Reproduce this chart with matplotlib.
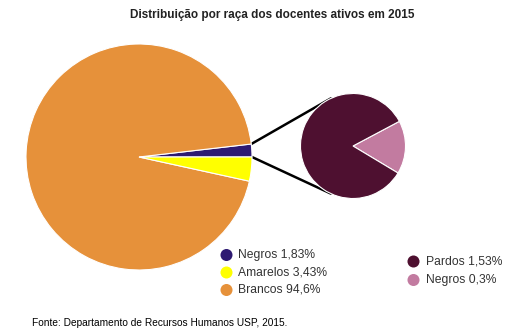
import matplotlib
matplotlib.use("Agg")
import matplotlib.pyplot as plt
import numpy as np

plt.rcParams["font.family"] = ["Liberation Sans", "DejaVu Sans"]

# ── Data ──────────────────────────────────────────────────────────────────────
main_labels = ["Negros", "Brancos", "Amarelos"]
main_values = [1.83, 94.6, 3.43]
main_colors = ["#2e1a72", "#e6913a", "#ffff00"]

detail_labels = ["Negros", "Pardos"]
detail_values = [0.3, 1.53]
detail_colors = ["#c27ba0", "#4e1030"]

legend_main = ["Negros 1,83%", "Amarelos 3,43%", "Brancos 94,6%"]
legend_main_colors = ["#2e1a72", "#ffff00", "#e6913a"]
legend_detail = ["Pardos 1,53%", "Negros 0,3%"]
legend_detail_colors = ["#4e1030", "#c27ba0"]

W, H = 532, 334
fig = plt.figure(figsize=(W / 100, H / 100), dpi=100)
ax = fig.add_axes([0, 0, 1, 1])

# pixel-style coordinates: y measured from the top
def Y(y):
    return H - y

big_c, big_r = (139, Y(157)), 113
small_c, small_r = (353, Y(146)), 52.5

wedges, _ = ax.pie(main_values, colors=main_colors, startangle=0,
                   center=big_c, radius=big_r, counterclock=True,
                   wedgeprops=dict(edgecolor="white", linewidth=0.8))
ax.pie(detail_values, colors=detail_colors, startangle=-31,
       center=small_c, radius=small_r, counterclock=True,
       wedgeprops=dict(edgecolor="white", linewidth=0.8))

# connector lines from the edges of the "Negros" slice to the detail pie
neg = wedges[0]
for ang in (neg.theta2, neg.theta1):
    t = np.deg2rad(ang)
    x0 = big_c[0] + big_r * np.cos(t)
    y0 = big_c[1] + big_r * np.sin(t)
    sgn = 1 if ang > 1 else -1
    ta = np.deg2rad(115 if sgn > 0 else -115)
    x1 = small_c[0] + small_r * np.cos(ta)
    y1 = small_c[1] + small_r * np.sin(ta)
    ax.plot([x0, x1], [y0, y1], color="black", lw=1.8, zorder=0,
            solid_capstyle="round")

# legends drawn by hand
for i, (lab, col) in enumerate(zip(legend_main, legend_main_colors)):
    y = Y(255 + i * 17.5)
    ax.scatter(226.5, y, s=75, color=col, edgecolor="none")
    ax.text(238, y, lab, fontsize=8.7, va="center", ha="left", color="#333333")

for i, (lab, col) in enumerate(zip(legend_detail, legend_detail_colors)):
    y = Y(261.5 + i * 18.5)
    ax.scatter(413.5, y, s=75, color=col, edgecolor="none")
    ax.text(426, y, lab, fontsize=8.7, va="center", ha="left", color="#333333")

ax.text(272, Y(15), "Distribuição por raça dos docentes ativos em 2015",
        fontsize=8.5, fontweight="bold", ha="center", va="center", color="#222222")
ax.text(32, Y(323), "Fonte: Departamento de Recursos Humanos USP, 2015.",
        fontsize=7.3, ha="left", va="center", color="#000000")

ax.set_xlim(0, W)
ax.set_ylim(0, H)
ax.set_aspect("equal")
ax.axis("off")

fig.savefig("out.png", dpi=100, facecolor="white")
